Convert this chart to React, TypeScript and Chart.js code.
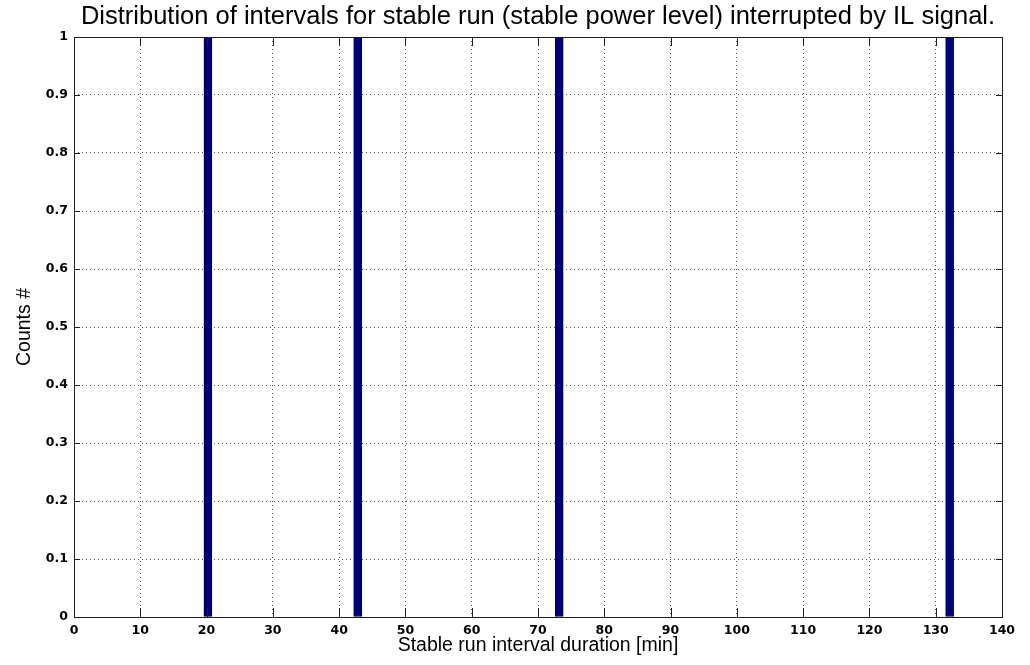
import React, { useEffect, useRef } from "react";
import { Chart, registerables } from "chart.js";

Chart.register(...registerables);

// Histogram of stable-run interval durations (bin centres in minutes) and counts
const intervalMinutes = [20.2, 42.8, 73.2, 132.1];
const intervalCounts = [1, 1, 1, 1];

const xTickValues = [0, 10, 20, 30, 40, 50, 60, 70, 80, 90, 100, 110, 120, 130, 140];
const yTickValues = [0, 0.1, 0.2, 0.3, 0.4, 0.5, 0.6, 0.7, 0.8, 0.9, 1];

const titleText =
  "Distribution of intervals for stable run (stable power level) interrupted by IL signal.";
const xTitle = "Stable run interval duration [min]";
const yTitle = "Counts #";

const tickFont = { family: "'DejaVu Sans', sans-serif", size: 12.5, weight: "bold" as const };
const labelFamily = "'Liberation Sans', Arial, sans-serif";

// Box around the axes plus inward-pointing tick marks on all four sides
const axesFramePlugin = {
  id: "axesFrame",
  afterDatasetsDraw(chart: any) {
    const { ctx, chartArea } = chart;
    const { left, right, top, bottom } = chartArea;
    const xs = chart.scales.x;
    const ys = chart.scales.y;
    ctx.save();
    ctx.strokeStyle = "#1e1e1e";
    ctx.lineWidth = 1;
    ctx.setLineDash([]);
    ctx.beginPath();
    for (const v of xTickValues) {
      const px = Math.round(xs.getPixelForValue(v)) + 0.5;
      ctx.moveTo(px, bottom);
      ctx.lineTo(px, bottom - 9);
      ctx.moveTo(px, top);
      ctx.lineTo(px, top + 9);
    }
    for (const v of yTickValues) {
      const py = Math.round(ys.getPixelForValue(v)) + 0.5;
      ctx.moveTo(left, py);
      ctx.lineTo(left + 6, py);
      ctx.moveTo(right, py);
      ctx.lineTo(right - 6, py);
    }
    ctx.stroke();
    ctx.strokeRect(Math.round(left) + 0.5, Math.round(top) + 0.5, Math.round(right - left), Math.round(bottom - top));
    ctx.restore();
  },
};

export default function App() {
  const canvasRef = useRef<HTMLCanvasElement | null>(null);

  useEffect(() => {
    if (!canvasRef.current) return;
    const chart = new Chart(canvasRef.current, {
      type: "bar",
      data: {
        datasets: [
          {
            data: intervalMinutes.map((m, i) => ({ x: m, y: intervalCounts[i] })),
            backgroundColor: "#00007f",
            borderColor: "#00003a",
            borderWidth: 1,
            borderSkipped: false,
            barThickness: 8,
          },
        ],
      },
      options: {
        responsive: false,
        animation: false,
        layout: { padding: { left: 0, right: 28, top: 0, bottom: 0 } },
        plugins: {
          legend: { display: false },
          tooltip: { enabled: false },
          title: {
            display: true,
            text: titleText,
            fullSize: false,
            color: "#000",
            font: { family: labelFamily, size: 25.5, weight: "normal", lineHeight: 1.2 },
            padding: { top: 1.5, bottom: 4.9 },
          },
        },
        scales: {
          x: {
            type: "linear",
            min: 0,
            max: 140,
            offset: false,
            afterFit: (s: any) => {
              s.height = 48;
            },
            afterBuildTicks: (s: any) => {
              s.ticks = xTickValues.map((v) => ({ value: v }));
            },
            ticks: {
              color: "#000",
              font: tickFont,
              padding: 6,
              maxRotation: 0,
              autoSkip: false,
              callback: (v: any) => String(v),
            },
            grid: { color: "#555", lineWidth: 1, drawTicks: false, offset: false },
            border: { display: false, dash: [1, 3] },
            title: {
              display: true,
              text: xTitle,
              color: "#000",
              font: { family: labelFamily, size: 19.5, lineHeight: 1.2 },
              padding: { top: 0, bottom: 7.5 },
            },
          },
          y: {
            type: "linear",
            min: 0,
            max: 1,
            afterFit: (s: any) => {
              s.width = 74;
            },
            afterBuildTicks: (s: any) => {
              s.ticks = yTickValues.map((v) => ({ value: v }));
            },
            ticks: {
              color: "#000",
              font: tickFont,
              padding: 6,
              autoSkip: false,
              callback: (v: any) => String(Number(Number(v).toFixed(1))),
            },
            grid: { color: "#555", lineWidth: 1, drawTicks: false },
            border: { display: false, dash: [1, 3] },
            title: {
              display: true,
              text: yTitle,
              color: "#000",
              font: { family: labelFamily, size: 19.5, lineHeight: 1.2 },
              padding: { top: 12.5, bottom: 0 },
            },
          },
        },
      },
      plugins: [axesFramePlugin],
    });
    return () => chart.destroy();
  }, []);

  return (
    <div style={{ position: "fixed", left: 0, top: 0, width: 1030, height: 665, background: "#fff" }}>
      <canvas ref={canvasRef} width={1030} height={665} style={{ width: 1030, height: 665 }} />
    </div>
  );
}
